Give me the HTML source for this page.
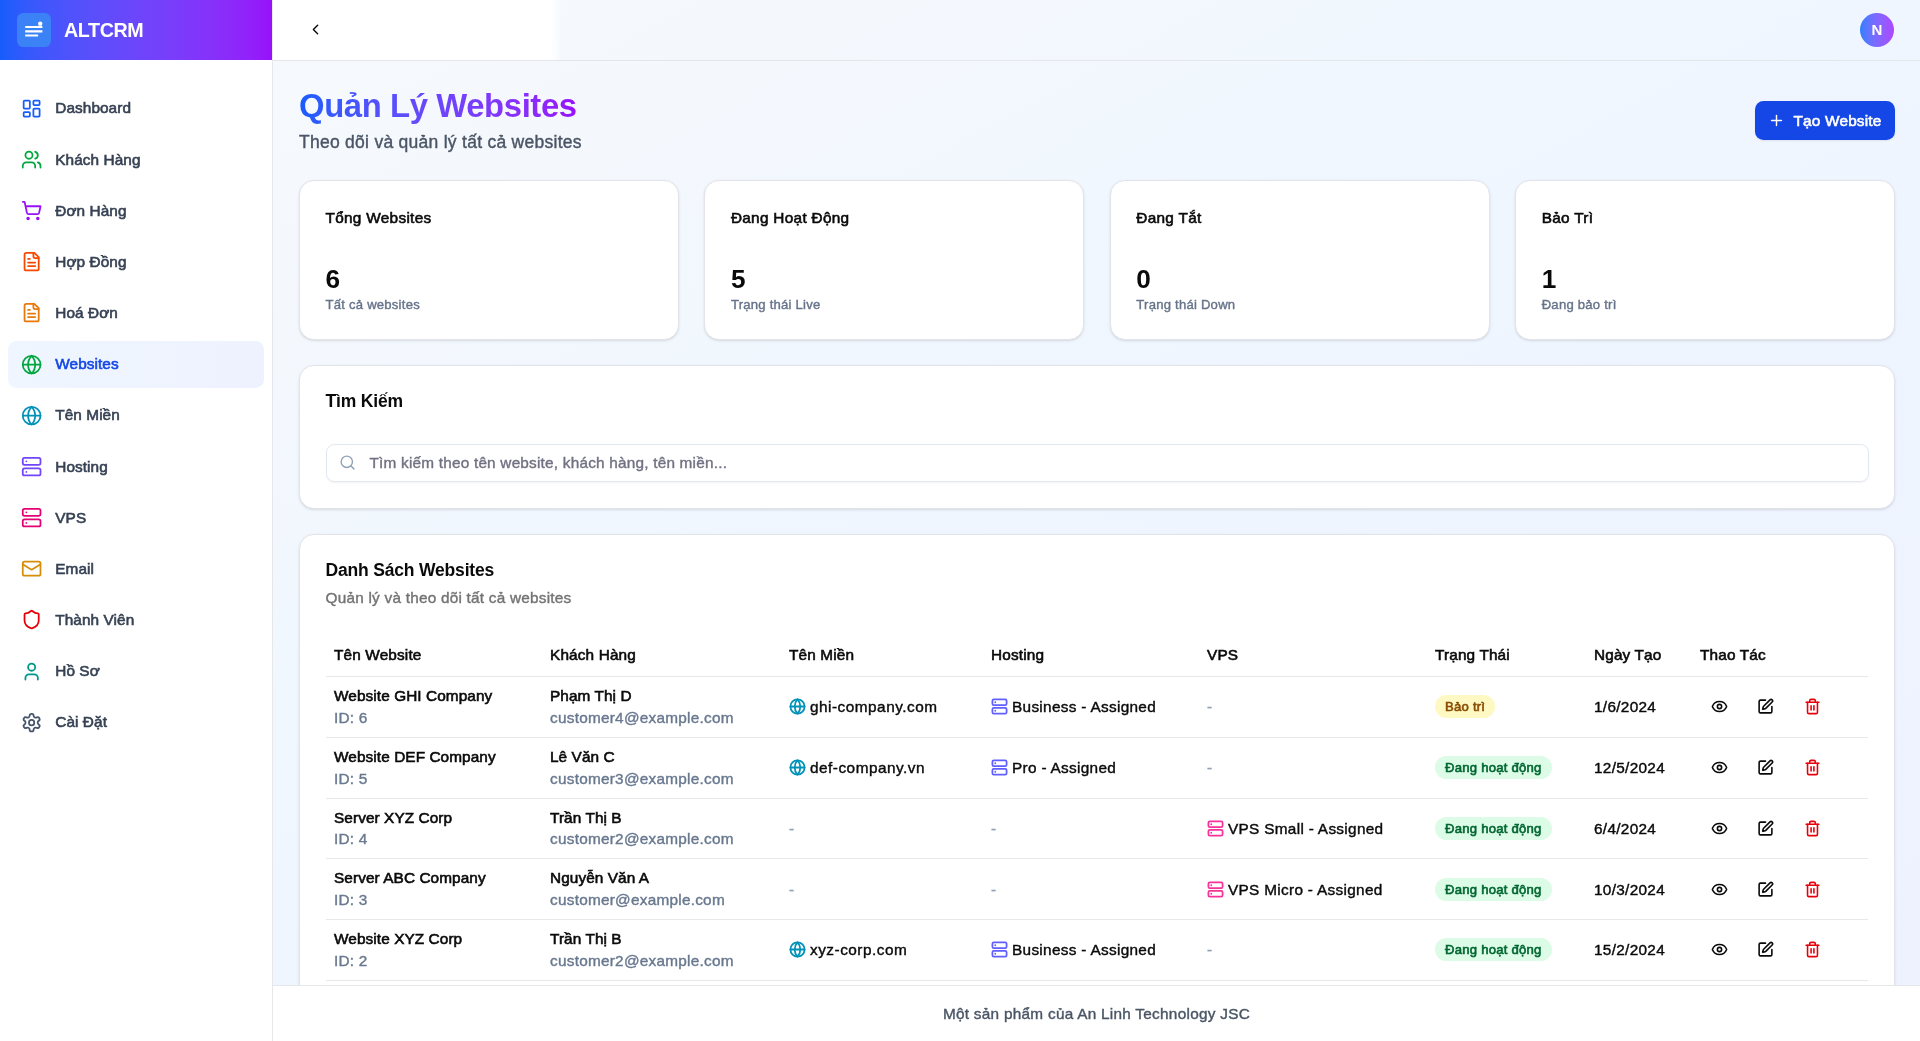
<!DOCTYPE html>
<html lang="vi">
<head>
<meta charset="utf-8">
<title>ALTCRM - Quản Lý Websites</title>
<style>
*{box-sizing:border-box;margin:0;padding:0}
html,body{width:1920px;height:1041px;overflow:hidden}
body{font-family:"Liberation Sans",sans-serif;color:#0a0a0a;background:#fff;position:relative;-webkit-text-stroke:.4px currentColor}
svg{display:block;fill:none;stroke:currentColor;stroke-width:2;stroke-linecap:round;stroke-linejoin:round}
.med{-webkit-text-stroke:.6px currentColor}
h1,.ct,.card .n,#brand b,#ava{-webkit-text-stroke:0}
#sidebar{position:absolute;left:0;top:0;width:273px;height:1041px;background:#fff;border-right:1px solid #e5e7eb;z-index:5}
#brand{position:absolute;left:0;top:0;width:272px;height:60px;background:linear-gradient(to right in oklab,#155dfc,#9810fa)}
#logo{position:absolute;left:17px;top:13px;width:34px;height:34px;border-radius:6.4px;background:#3b82f6;color:#fff}
#brand b{will-change:transform;position:absolute;left:64px;top:18px;font-size:19.7px;line-height:24px;font-weight:700;color:#fff;letter-spacing:-.38px}
nav{will-change:transform;position:absolute;left:8px;top:84.9px;width:256px}
nav a{display:flex;align-items:center;height:46.9px;margin-bottom:4.27px;padding-left:13.25px;border-radius:8.5px;font-size:15.35px;color:#364153;text-decoration:none;letter-spacing:.08px}
nav a svg{width:21.25px;height:21.25px;margin-right:12.75px;flex:none}
nav a.on{background:linear-gradient(to right,#eff6ff,#eef2ff);color:#1447e6}
#main{position:absolute;left:273px;top:0;width:1647px;height:1041px;overflow:hidden}
#bg{position:absolute;left:-273px;top:0;width:1920px;height:1041px;background:linear-gradient(to bottom right in oklab,#f8fafc 0%,#eff6ff 50%,#eef2ff 100%)}
#hdr{position:absolute;left:0;top:0;width:1647px;height:61px;border-bottom:1px solid #e4e6ea}
#hdr .w{position:absolute;left:0;top:0;width:289px;height:60px;background:linear-gradient(to right,#fff 0,#fff 278px,rgba(255,255,255,0) 289px)}
#back{position:absolute;left:34px;top:21px;width:17px;height:17px;color:#0a0a0a}
#ava{will-change:transform;position:absolute;left:1587px;top:13px;width:34px;height:34px;border-radius:50%;background:linear-gradient(to right in oklab,#2b7fff,#ad46ff);color:#fff;font-size:15px;font-weight:700;text-align:center;line-height:34px}
#page{will-change:transform;position:absolute;left:25.5px;top:0;width:1596px}
h1{position:absolute;left:0;top:87.2px;font-size:32.8px;line-height:38px;font-weight:700;letter-spacing:-.38px;white-space:nowrap;color:transparent;background:linear-gradient(to right in oklab,#155dfc,#9810fa);-webkit-background-clip:text;background-clip:text}
#sub{position:absolute;left:0;top:130.1px;font-size:17.5px;line-height:25.5px;color:#4a5565;white-space:nowrap;letter-spacing:.27px}
#add{position:absolute;right:0;top:101px;width:140.5px;height:38.5px;border-radius:8.5px;background:#1447e6;color:#fff;font-size:15.35px;letter-spacing:.2px;display:flex;align-items:center;padding-left:13px;box-shadow:0 1px 2px rgba(0,0,0,.08)}
#add svg{width:17px;height:17px;margin-right:9px}
.card{position:absolute;background:#fff;border:1px solid #e1e4e9;border-radius:15px;box-shadow:0 1px 3px rgba(0,0,0,.10),0 1px 2px -1px rgba(0,0,0,.10)}
.card .t{position:absolute;left:25.5px;top:25.5px;font-size:15.35px;line-height:21.25px;white-space:nowrap;letter-spacing:.3px}
.card .n{position:absolute;left:25.5px;top:80.75px;font-size:26.2px;line-height:34px;font-weight:700}
.card .s{position:absolute;left:25.5px;top:114.75px;font-size:13.1px;line-height:17px;color:#66738a;white-space:nowrap;letter-spacing:.23px}
.ct{position:absolute;left:25.5px;top:26.5px;font-size:17.5px;line-height:17px;font-weight:700;white-space:nowrap;letter-spacing:-.18px}
.cd{position:absolute;left:25.5px;top:51.5px;font-size:15.35px;line-height:21.25px;color:#737373;white-space:nowrap;letter-spacing:.23px}
#inp{position:absolute;left:25.5px;top:77.4px;right:25.5px;height:38.25px;border:1px solid #e2e8f0;border-radius:8.5px;background:#fff;box-shadow:0 1px 2px rgba(0,0,0,.05);font-size:15.35px;line-height:36px;color:#717182;padding-left:43px;white-space:nowrap;letter-spacing:.21px}
#inp svg{position:absolute;left:12px;top:9.6px;width:17px;height:17px;color:#90a1b9}
table{position:absolute;left:25.5px;top:99px;width:1542px;border-collapse:collapse;table-layout:fixed;font-size:15.35px}
th{height:42.5px;text-align:left;font-weight:400;padding:0 8.5px;border-bottom:1px solid #e8e8ea;white-space:nowrap;letter-spacing:.15px}
td{height:60.75px;padding:0 8.5px;border-bottom:1px solid #e8e8ea;white-space:nowrap;line-height:21.25px;vertical-align:middle;letter-spacing:.31px}
td .g{color:#68788f;display:block;letter-spacing:.25px}
td .dm{letter-spacing:.5px}
td .m{display:block;letter-spacing:.09px;position:relative;top:-.6px}
td .ic{display:flex;align-items:center}
td .ic svg{width:17px;height:17px;margin-right:4px;flex:none;stroke-width:2.5}
td .dash{color:#90a1b9}
.bd{display:inline-block;height:23px;line-height:23px;padding:0 10px;border-radius:12px;font-size:13.1px;font-weight:400;letter-spacing:.24px}
.bd.y{background:#fef9c2;color:#894b00}
.bd.gr{background:#dcfce7;color:#016630}
.act{display:flex}
.act span{width:38.25px;height:38.25px;margin-right:8.5px;display:flex;align-items:center;justify-content:center}
.act svg{width:17px;height:17px;stroke-width:2.25}
#foot{will-change:transform;position:absolute;left:0;top:985px;width:1647px;height:56px;background:#fff;border-top:1px solid #e5e7eb;text-align:center;font-size:15.35px;line-height:55px;color:#4a5565;letter-spacing:.27px}
</style>
</head>
<body>
<div id="main"><div id="bg"></div>
  <div id="hdr"><div class="w"></div>
    <svg id="back" viewBox="0 0 24 24"><path d="m15 18-6-6 6-6"/></svg>
    <div id="ava">N</div>
  </div>
  <div id="page">
    <h1>Quản Lý Websites</h1>
    <div id="sub">Theo dõi và quản lý tất cả websites</div>
    <div id="add"><svg viewBox="0 0 24 24"><path d="M5 12h14"/><path d="M12 5v14"/></svg><span class="med" style="position:relative;top:.7px">Tạo Website</span></div>
    <div class="card" style="left:0.0px;top:180.4px;width:379.9px;height:159.25px"><div class="t med">Tổng Websites</div><div class="n">6</div><div class="s">Tất cả websites</div></div>
    <div class="card" style="left:405.4px;top:180.4px;width:379.9px;height:159.25px"><div class="t med">Đang Hoạt Động</div><div class="n">5</div><div class="s">Trạng thái Live</div></div>
    <div class="card" style="left:810.8px;top:180.4px;width:379.9px;height:159.25px"><div class="t med">Đang Tắt</div><div class="n">0</div><div class="s">Trạng thái Down</div></div>
    <div class="card" style="left:1216.2px;top:180.4px;width:379.9px;height:159.25px"><div class="t med">Bảo Trì</div><div class="n">1</div><div class="s">Đang bảo trì</div></div>
    <div class="card" style="left:0;top:365.4px;width:1596px;height:143.2px"><div class="ct">Tìm Kiếm</div><div id="inp"><svg viewBox="0 0 24 24"><circle cx="11" cy="11" r="8"/><path d="m21 21-4.3-4.3"/></svg>Tìm kiếm theo tên website, khách hàng, tên miền...</div></div>
    <div class="card" style="left:0;top:534px;width:1596px;height:620px"><div class="ct">Danh Sách Websites</div><div class="cd">Quản lý và theo dõi tất cả websites</div>
<table><colgroup><col style="width:216px"><col style="width:239px"><col style="width:202px"><col style="width:216px"><col style="width:228px"><col style="width:159px"><col style="width:106px"><col style="width:176px"></colgroup>
<thead><tr><th class="med">Tên Website</th><th class="med">Khách Hàng</th><th class="med">Tên Miền</th><th class="med">Hosting</th><th class="med">VPS</th><th class="med">Trạng Thái</th><th class="med">Ngày Tạo</th><th class="med">Thao Tác</th></tr></thead><tbody>
<tr><td><span class="m med">Website GHI Company</span><span class="g">ID: 6</span></td><td><span class="m med">Phạm Thị D</span><span class="g">customer4@example.com</span></td><td><span class="ic dm"><svg viewBox="0 0 24 24" style="color:#0092b8"><circle cx="12" cy="12" r="10"/><path d="M12 2a14.5 14.5 0 0 0 0 20 14.5 14.5 0 0 0 0-20"/><path d="M2 12h20"/></svg>ghi-company.com</span></td><td><span class="ic"><svg viewBox="0 0 24 24" style="color:#615fff"><rect width="20" height="8" x="2" y="2" rx="2" ry="2"/><rect width="20" height="8" x="2" y="14" rx="2" ry="2"/><line x1="6" x2="6.01" y1="6" y2="6"/><line x1="6" x2="6.01" y1="18" y2="18"/></svg>Business - Assigned</span></td><td><span class="dash">-</span></td><td><span class="bd y med">Bảo trì</span></td><td>1/6/2024</td><td><div class="act"><span><svg viewBox="0 0 24 24"><path d="M2.062 12.348a1 1 0 0 1 0-.696 10.75 10.75 0 0 1 19.876 0 1 1 0 0 1 0 .696 10.75 10.75 0 0 1-19.876 0"/><circle cx="12" cy="12" r="3"/></svg></span><span><svg viewBox="0 0 24 24"><path d="M12 3H5a2 2 0 0 0-2 2v14a2 2 0 0 0 2 2h14a2 2 0 0 0 2-2v-7"/><path d="M18.375 2.625a1 1 0 0 1 3 3l-9.013 9.014a2 2 0 0 1-.853.505l-2.873.84a.5.5 0 0 1-.62-.62l.84-2.873a2 2 0 0 1 .506-.852z"/></svg></span><span><svg viewBox="0 0 24 24" style="color:#e7000b"><path d="M3 6h18"/><path d="M19 6v14c0 1-1 2-2 2H7c-1 0-2-1-2-2V6"/><path d="M8 6V4c0-1 1-2 2-2h4c1 0 2 1 2 2v2"/><line x1="10" x2="10" y1="11" y2="17"/><line x1="14" x2="14" y1="11" y2="17"/></svg></span></div></td></tr>
<tr><td><span class="m med">Website DEF Company</span><span class="g">ID: 5</span></td><td><span class="m med">Lê Văn C</span><span class="g">customer3@example.com</span></td><td><span class="ic dm"><svg viewBox="0 0 24 24" style="color:#0092b8"><circle cx="12" cy="12" r="10"/><path d="M12 2a14.5 14.5 0 0 0 0 20 14.5 14.5 0 0 0 0-20"/><path d="M2 12h20"/></svg>def-company.vn</span></td><td><span class="ic"><svg viewBox="0 0 24 24" style="color:#615fff"><rect width="20" height="8" x="2" y="2" rx="2" ry="2"/><rect width="20" height="8" x="2" y="14" rx="2" ry="2"/><line x1="6" x2="6.01" y1="6" y2="6"/><line x1="6" x2="6.01" y1="18" y2="18"/></svg>Pro - Assigned</span></td><td><span class="dash">-</span></td><td><span class="bd gr med">Đang hoạt động</span></td><td>12/5/2024</td><td><div class="act"><span><svg viewBox="0 0 24 24"><path d="M2.062 12.348a1 1 0 0 1 0-.696 10.75 10.75 0 0 1 19.876 0 1 1 0 0 1 0 .696 10.75 10.75 0 0 1-19.876 0"/><circle cx="12" cy="12" r="3"/></svg></span><span><svg viewBox="0 0 24 24"><path d="M12 3H5a2 2 0 0 0-2 2v14a2 2 0 0 0 2 2h14a2 2 0 0 0 2-2v-7"/><path d="M18.375 2.625a1 1 0 0 1 3 3l-9.013 9.014a2 2 0 0 1-.853.505l-2.873.84a.5.5 0 0 1-.62-.62l.84-2.873a2 2 0 0 1 .506-.852z"/></svg></span><span><svg viewBox="0 0 24 24" style="color:#e7000b"><path d="M3 6h18"/><path d="M19 6v14c0 1-1 2-2 2H7c-1 0-2-1-2-2V6"/><path d="M8 6V4c0-1 1-2 2-2h4c1 0 2 1 2 2v2"/><line x1="10" x2="10" y1="11" y2="17"/><line x1="14" x2="14" y1="11" y2="17"/></svg></span></div></td></tr>
<tr><td><span class="m med">Server XYZ Corp</span><span class="g">ID: 4</span></td><td><span class="m med">Trần Thị B</span><span class="g">customer2@example.com</span></td><td><span class="dash">-</span></td><td><span class="dash">-</span></td><td><span class="ic"><svg viewBox="0 0 24 24" style="color:#f6339a"><rect width="20" height="8" x="2" y="2" rx="2" ry="2"/><rect width="20" height="8" x="2" y="14" rx="2" ry="2"/><line x1="6" x2="6.01" y1="6" y2="6"/><line x1="6" x2="6.01" y1="18" y2="18"/></svg>VPS Small - Assigned</span></td><td><span class="bd gr med">Đang hoạt động</span></td><td>6/4/2024</td><td><div class="act"><span><svg viewBox="0 0 24 24"><path d="M2.062 12.348a1 1 0 0 1 0-.696 10.75 10.75 0 0 1 19.876 0 1 1 0 0 1 0 .696 10.75 10.75 0 0 1-19.876 0"/><circle cx="12" cy="12" r="3"/></svg></span><span><svg viewBox="0 0 24 24"><path d="M12 3H5a2 2 0 0 0-2 2v14a2 2 0 0 0 2 2h14a2 2 0 0 0 2-2v-7"/><path d="M18.375 2.625a1 1 0 0 1 3 3l-9.013 9.014a2 2 0 0 1-.853.505l-2.873.84a.5.5 0 0 1-.62-.62l.84-2.873a2 2 0 0 1 .506-.852z"/></svg></span><span><svg viewBox="0 0 24 24" style="color:#e7000b"><path d="M3 6h18"/><path d="M19 6v14c0 1-1 2-2 2H7c-1 0-2-1-2-2V6"/><path d="M8 6V4c0-1 1-2 2-2h4c1 0 2 1 2 2v2"/><line x1="10" x2="10" y1="11" y2="17"/><line x1="14" x2="14" y1="11" y2="17"/></svg></span></div></td></tr>
<tr><td><span class="m med">Server ABC Company</span><span class="g">ID: 3</span></td><td><span class="m med">Nguyễn Văn A</span><span class="g">customer@example.com</span></td><td><span class="dash">-</span></td><td><span class="dash">-</span></td><td><span class="ic"><svg viewBox="0 0 24 24" style="color:#f6339a"><rect width="20" height="8" x="2" y="2" rx="2" ry="2"/><rect width="20" height="8" x="2" y="14" rx="2" ry="2"/><line x1="6" x2="6.01" y1="6" y2="6"/><line x1="6" x2="6.01" y1="18" y2="18"/></svg>VPS Micro - Assigned</span></td><td><span class="bd gr med">Đang hoạt động</span></td><td>10/3/2024</td><td><div class="act"><span><svg viewBox="0 0 24 24"><path d="M2.062 12.348a1 1 0 0 1 0-.696 10.75 10.75 0 0 1 19.876 0 1 1 0 0 1 0 .696 10.75 10.75 0 0 1-19.876 0"/><circle cx="12" cy="12" r="3"/></svg></span><span><svg viewBox="0 0 24 24"><path d="M12 3H5a2 2 0 0 0-2 2v14a2 2 0 0 0 2 2h14a2 2 0 0 0 2-2v-7"/><path d="M18.375 2.625a1 1 0 0 1 3 3l-9.013 9.014a2 2 0 0 1-.853.505l-2.873.84a.5.5 0 0 1-.62-.62l.84-2.873a2 2 0 0 1 .506-.852z"/></svg></span><span><svg viewBox="0 0 24 24" style="color:#e7000b"><path d="M3 6h18"/><path d="M19 6v14c0 1-1 2-2 2H7c-1 0-2-1-2-2V6"/><path d="M8 6V4c0-1 1-2 2-2h4c1 0 2 1 2 2v2"/><line x1="10" x2="10" y1="11" y2="17"/><line x1="14" x2="14" y1="11" y2="17"/></svg></span></div></td></tr>
<tr><td><span class="m med">Website XYZ Corp</span><span class="g">ID: 2</span></td><td><span class="m med">Trần Thị B</span><span class="g">customer2@example.com</span></td><td><span class="ic dm"><svg viewBox="0 0 24 24" style="color:#0092b8"><circle cx="12" cy="12" r="10"/><path d="M12 2a14.5 14.5 0 0 0 0 20 14.5 14.5 0 0 0 0-20"/><path d="M2 12h20"/></svg>xyz-corp.com</span></td><td><span class="ic"><svg viewBox="0 0 24 24" style="color:#615fff"><rect width="20" height="8" x="2" y="2" rx="2" ry="2"/><rect width="20" height="8" x="2" y="14" rx="2" ry="2"/><line x1="6" x2="6.01" y1="6" y2="6"/><line x1="6" x2="6.01" y1="18" y2="18"/></svg>Business - Assigned</span></td><td><span class="dash">-</span></td><td><span class="bd gr med">Đang hoạt động</span></td><td>15/2/2024</td><td><div class="act"><span><svg viewBox="0 0 24 24"><path d="M2.062 12.348a1 1 0 0 1 0-.696 10.75 10.75 0 0 1 19.876 0 1 1 0 0 1 0 .696 10.75 10.75 0 0 1-19.876 0"/><circle cx="12" cy="12" r="3"/></svg></span><span><svg viewBox="0 0 24 24"><path d="M12 3H5a2 2 0 0 0-2 2v14a2 2 0 0 0 2 2h14a2 2 0 0 0 2-2v-7"/><path d="M18.375 2.625a1 1 0 0 1 3 3l-9.013 9.014a2 2 0 0 1-.853.505l-2.873.84a.5.5 0 0 1-.62-.62l.84-2.873a2 2 0 0 1 .506-.852z"/></svg></span><span><svg viewBox="0 0 24 24" style="color:#e7000b"><path d="M3 6h18"/><path d="M19 6v14c0 1-1 2-2 2H7c-1 0-2-1-2-2V6"/><path d="M8 6V4c0-1 1-2 2-2h4c1 0 2 1 2 2v2"/><line x1="10" x2="10" y1="11" y2="17"/><line x1="14" x2="14" y1="11" y2="17"/></svg></span></div></td></tr>
<tr><td><span class="m med">Website ABC Company</span><span class="g">ID: 1</span></td><td><span class="m med">Nguyễn Văn A</span><span class="g">customer@example.com</span></td><td><span class="ic dm"><svg viewBox="0 0 24 24" style="color:#0092b8"><circle cx="12" cy="12" r="10"/><path d="M12 2a14.5 14.5 0 0 0 0 20 14.5 14.5 0 0 0 0-20"/><path d="M2 12h20"/></svg>abc-company.com</span></td><td><span class="ic"><svg viewBox="0 0 24 24" style="color:#615fff"><rect width="20" height="8" x="2" y="2" rx="2" ry="2"/><rect width="20" height="8" x="2" y="14" rx="2" ry="2"/><line x1="6" x2="6.01" y1="6" y2="6"/><line x1="6" x2="6.01" y1="18" y2="18"/></svg>Basic - Assigned</span></td><td><span class="dash">-</span></td><td><span class="bd gr med">Đang hoạt động</span></td><td>15/1/2024</td><td><div class="act"><span><svg viewBox="0 0 24 24"><path d="M2.062 12.348a1 1 0 0 1 0-.696 10.75 10.75 0 0 1 19.876 0 1 1 0 0 1 0 .696 10.75 10.75 0 0 1-19.876 0"/><circle cx="12" cy="12" r="3"/></svg></span><span><svg viewBox="0 0 24 24"><path d="M12 3H5a2 2 0 0 0-2 2v14a2 2 0 0 0 2 2h14a2 2 0 0 0 2-2v-7"/><path d="M18.375 2.625a1 1 0 0 1 3 3l-9.013 9.014a2 2 0 0 1-.853.505l-2.873.84a.5.5 0 0 1-.62-.62l.84-2.873a2 2 0 0 1 .506-.852z"/></svg></span><span><svg viewBox="0 0 24 24" style="color:#e7000b"><path d="M3 6h18"/><path d="M19 6v14c0 1-1 2-2 2H7c-1 0-2-1-2-2V6"/><path d="M8 6V4c0-1 1-2 2-2h4c1 0 2 1 2 2v2"/><line x1="10" x2="10" y1="11" y2="17"/><line x1="14" x2="14" y1="11" y2="17"/></svg></span></div></td></tr>
</tbody></table>
    </div>
  </div>
  <div id="foot">Một sản phẩm của An Linh Technology JSC</div>
</div>
<div id="sidebar">
  <div id="brand">
    <div id="logo"><svg viewBox="0 0 34 34" width="34" height="34" style="stroke-width:2.2;stroke-linecap:butt"><path d="M8.2 14h17.2M8.2 18.3h17.2M8.2 22.5h12.9"/><circle cx="23.2" cy="10.8" r="2.2" fill="#fff" stroke="none"/></svg></div>
    <b>ALTCRM</b>
  </div>
  <nav>
    <a><svg viewBox="0 0 24 24" style="color:#155dfc"><rect width="7" height="9" x="3" y="3" rx="1"/><rect width="7" height="5" x="14" y="3" rx="1"/><rect width="7" height="9" x="14" y="12" rx="1"/><rect width="7" height="5" x="3" y="16" rx="1"/></svg><span class="med">Dashboard</span></a>
    <a><svg viewBox="0 0 24 24" style="color:#00a63e"><path d="M16 21v-2a4 4 0 0 0-4-4H6a4 4 0 0 0-4 4v2"/><circle cx="9" cy="7" r="4"/><path d="M22 21v-2a4 4 0 0 0-3-3.87"/><path d="M16 3.13a4 4 0 0 1 0 7.75"/></svg><span class="med">Khách Hàng</span></a>
    <a><svg viewBox="0 0 24 24" style="color:#9810fa"><circle cx="8" cy="21" r="1"/><circle cx="19" cy="21" r="1"/><path d="M2.05 2.05h2l2.66 12.42a2 2 0 0 0 2 1.58h9.78a2 2 0 0 0 1.95-1.57l1.65-7.43H5.12"/></svg><span class="med">Đơn Hàng</span></a>
    <a><svg viewBox="0 0 24 24" style="color:#f54900"><path d="M15 2H6a2 2 0 0 0-2 2v16a2 2 0 0 0 2 2h12a2 2 0 0 0 2-2V7Z"/><path d="M14 2v4a2 2 0 0 0 2 2h4"/><path d="M10 9H8"/><path d="M16 13H8"/><path d="M16 17H8"/></svg><span class="med">Hợp Đồng</span></a>
    <a><svg viewBox="0 0 24 24" style="color:#e8780a"><path d="M15 2H6a2 2 0 0 0-2 2v16a2 2 0 0 0 2 2h12a2 2 0 0 0 2-2V7Z"/><path d="M14 2v4a2 2 0 0 0 2 2h4"/><path d="M10 9H8"/><path d="M16 13H8"/><path d="M16 17H8"/></svg><span class="med">Hoá Đơn</span></a>
    <a class="on"><svg viewBox="0 0 24 24" style="color:#00a63e"><circle cx="12" cy="12" r="10"/><path d="M12 2a14.5 14.5 0 0 0 0 20 14.5 14.5 0 0 0 0-20"/><path d="M2 12h20"/></svg><span class="med">Websites</span></a>
    <a><svg viewBox="0 0 24 24" style="color:#0092b8"><circle cx="12" cy="12" r="10"/><path d="M12 2a14.5 14.5 0 0 0 0 20 14.5 14.5 0 0 0 0-20"/><path d="M2 12h20"/></svg><span class="med">Tên Miền</span></a>
    <a><svg viewBox="0 0 24 24" style="color:#7045fc"><rect width="20" height="8" x="2" y="2" rx="2" ry="2"/><rect width="20" height="8" x="2" y="14" rx="2" ry="2"/><line x1="6" x2="6.01" y1="6" y2="6"/><line x1="6" x2="6.01" y1="18" y2="18"/></svg><span class="med">Hosting</span></a>
    <a><svg viewBox="0 0 24 24" style="color:#e60076"><rect width="20" height="8" x="2" y="2" rx="2" ry="2"/><rect width="20" height="8" x="2" y="14" rx="2" ry="2"/><line x1="6" x2="6.01" y1="6" y2="6"/><line x1="6" x2="6.01" y1="18" y2="18"/></svg><span class="med">VPS</span></a>
    <a><svg viewBox="0 0 24 24" style="color:#d48e0a"><rect width="20" height="16" x="2" y="4" rx="2"/><path d="m22 7-8.97 5.7a1.94 1.94 0 0 1-2.06 0L2 7"/></svg><span class="med">Email</span></a>
    <a><svg viewBox="0 0 24 24" style="color:#e7000b"><path d="M20 13c0 5-3.5 7.5-7.66 8.95a1 1 0 0 1-.67-.01C7.5 20.5 4 18 4 13V6a1 1 0 0 1 1-1c2 0 4.5-1.2 6.24-2.72a1.17 1.17 0 0 1 1.52 0C14.51 3.81 17 5 19 5a1 1 0 0 1 1 1z"/></svg><span class="med">Thành Viên</span></a>
    <a><svg viewBox="0 0 24 24" style="color:#009689"><path d="M19 21v-2a4 4 0 0 0-4-4H9a4 4 0 0 0-4 4v2"/><circle cx="12" cy="7" r="4"/></svg><span class="med">Hồ Sơ</span></a>
    <a><svg viewBox="0 0 24 24" style="color:#45556c"><path d="M12.22 2h-.44a2 2 0 0 0-2 2v.18a2 2 0 0 1-1 1.73l-.43.25a2 2 0 0 1-2 0l-.15-.08a2 2 0 0 0-2.73.73l-.22.38a2 2 0 0 0 .73 2.73l.15.1a2 2 0 0 1 1 1.72v.51a2 2 0 0 1-1 1.74l-.15.09a2 2 0 0 0-.73 2.73l.22.38a2 2 0 0 0 2.73.73l.15-.08a2 2 0 0 1 2 0l.43.25a2 2 0 0 1 1 1.73V20a2 2 0 0 0 2 2h.44a2 2 0 0 0 2-2v-.18a2 2 0 0 1 1-1.73l.43-.25a2 2 0 0 1 2 0l.15.08a2 2 0 0 0 2.73-.73l.22-.39a2 2 0 0 0-.73-2.73l-.15-.08a2 2 0 0 1-1-1.74v-.5a2 2 0 0 1 1-1.74l.15-.09a2 2 0 0 0 .73-2.73l-.22-.38a2 2 0 0 0-2.73-.73l-.15.08a2 2 0 0 1-2 0l-.43-.25a2 2 0 0 1-1-1.73V4a2 2 0 0 0-2-2z"/><circle cx="12" cy="12" r="3"/></svg><span class="med">Cài Đặt</span></a>
  </nav>
</div>
</body>
</html>
